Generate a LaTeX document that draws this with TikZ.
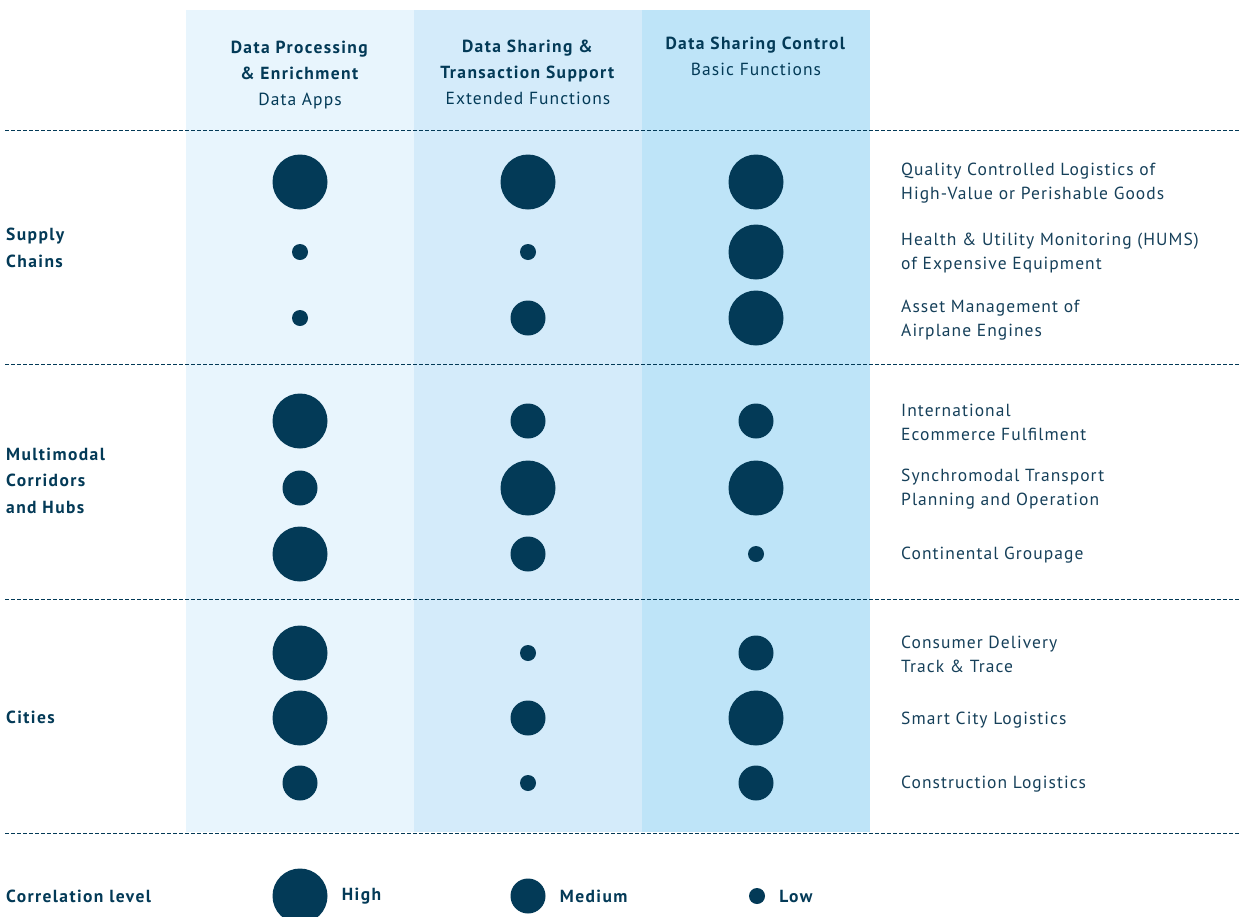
\documentclass[tikz,border=0pt]{standalone}
\usepackage{fontspec}
\setmainfont{PT Sans}[LetterSpace=6,BoldFeatures={LetterSpace=8}]
\usetikzlibrary{positioning}
\definecolor{navy}{HTML}{033A57}
\definecolor{ink}{HTML}{16405A}
\definecolor{bgA}{HTML}{E8F5FD}
\definecolor{bgB}{HTML}{D4EBFA}
\definecolor{bgC}{HTML}{BEE4F8}

\begin{document}
\begin{tikzpicture}[x=1pt,y=-1pt]
\tikzset{
high/.style   = {circle,fill=navy,
                 minimum size=55pt,
                 inner sep=0pt},
medium/.style = {circle,fill=navy,
                 minimum size=35pt,
                 inner sep=0pt},
low/.style    = {circle,fill=navy,
                 minimum size=16pt,
                 inner sep=0pt},
usecase/.style = {anchor=west,align=left,
                  text=ink,inner sep=0pt,
                  font=\fontsize{17.5}{24}\selectfont},
group/.style = {anchor=west,align=left,
                text=navy,inner sep=0pt,
                font=\fontsize{17.5}{26.5}\selectfont\bfseries},
head/.style = {align=center,text=navy,inner sep=0pt,
               font=\fontsize{17.5}{26}\selectfont},
sep/.style = {draw=navy,line width=1pt,
              dash pattern=on 4pt off 2pt}
}
\useasboundingbox (0,0) rectangle (1239,916);
\fill[white] (0,0) rectangle (1239,916);

\fill[bgA] (186,10) rectangle (414,832);
\fill[bgB] (414,10) rectangle (642,832);
\fill[bgC] (642,10) rectangle (870,832);

\node[head] (HA) at (300,75.5) {\textbf{Data Processing}\\\textbf{\& Enrichment}\\Data Apps};
\node[head] (HB) at (528,72)   {\textbf{Data Sharing \&}\\\textbf{Transaction Support}\\Extended Functions};
\node[head] (HC) at (756,56)   {\textbf{Data Sharing Control}\\Basic Functions};

\draw[sep] (5,130) -- (1239,130);
\draw[sep] (5,364) -- (1239,364);
\draw[sep] (5,599) -- (1239,599);
\draw[sep] (5,833) -- (1239,833);

\node[group] (G1) at (6,248) {Supply\\Chains};
\node[group] (G2) at (6,480.5) {Multimodal\\Corridors\\and Hubs};
\node[group] (G3) at (6,717) {Cities};

\node[high]   (A1) at (300,182) {}; \node[high]   (B1) at (528,182) {}; \node[high]   (C1) at (756,182) {};
\node[low]    (A2) at (300,252) {}; \node[low]    (B2) at (528,252) {}; \node[high]   (C2) at (756,252) {};
\node[low]    (A3) at (300,318) {}; \node[medium] (B3) at (528,318) {}; \node[high]   (C3) at (756,318) {};

\node[high]   (A4) at (300,421) {}; \node[medium] (B4) at (528,421) {}; \node[medium] (C4) at (756,421) {};
\node[medium] (A5) at (300,488) {}; \node[high]   (B5) at (528,488) {}; \node[high]   (C5) at (756,488) {};
\node[high]   (A6) at (300,554) {}; \node[medium] (B6) at (528,554) {}; \node[low]    (C6) at (756,554) {};

\node[high]   (A7) at (300,653) {}; \node[low]    (B7) at (528,653) {}; \node[medium] (C7) at (756,653) {};
\node[high]   (A8) at (300,718) {}; \node[medium] (B8) at (528,718) {}; \node[high]   (C8) at (756,718) {};
\node[medium] (A9) at (300,783) {}; \node[low]    (B9) at (528,783) {}; \node[medium] (C9) at (756,783) {};

\node[usecase] (U1) at (901,183) {Quality Controlled Logistics of\\High-Value or Perishable Goods};
\node[usecase] (U2) at (901,253) {Health \& Utility Monitoring (HUMS)\\of Expensive Equipment};
\node[usecase] (U3) at (901,320) {Asset Management of\\Airplane Engines};
\node[usecase] (U4) at (901,422) {International\\Ecommerce Fulfilment};
\node[usecase] (U5) at (901,489) {Synchromodal Transport\\Planning and Operation};
\node[usecase] (U6) at (901,555) {Continental Groupage};
\node[usecase] (U7) at (901,654) {Consumer Delivery\\Track \& Trace};
\node[usecase] (U8) at (901,720) {Smart City Logistics};
\node[usecase] (U9) at (901,784) {Construction Logistics};

\node[group] (KEY) at (6,896) {Correlation level};
\node[high]   (H) at (300,896) {};
\node[medium] (M) at (528,896) {};
\node[low]    (L) at (757,896) {};
\node[group,right=14pt of H] {High};
\node[group,right=14pt of M] {Medium};
\node[group,right=14pt of L] {Low};
\end{tikzpicture}
\end{document}
